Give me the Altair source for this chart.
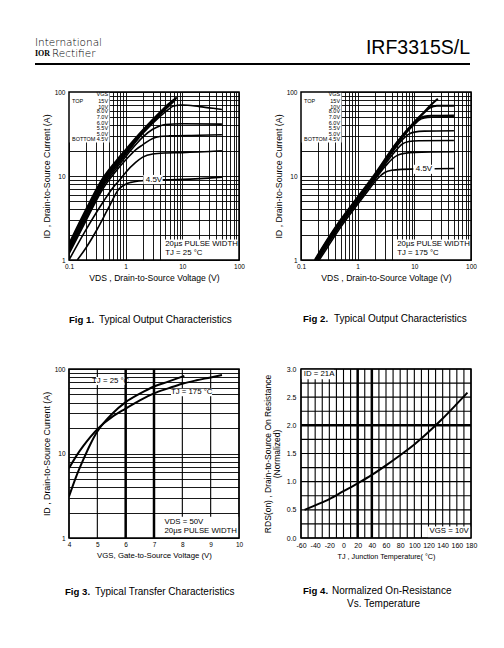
import altair as alt
import pandas as pd

FONT = "Liberation Sans"

# ---------------- Fig 1: typical output characteristics, TJ = 25 C  (VDS [V], ID [A]) ----------------
F1_15V = [(0.1, 1.55), (0.2, 4.0), (0.4, 9.5), (0.7, 15.5), (1, 20.5), (2, 35), (4, 57), (6, 74), (8, 86)]
F1_10V = [(0.1, 1.45), (0.2, 3.7), (0.4, 8.9), (0.7, 14.7), (1, 19.5), (2, 34), (4, 55.5), (6, 72), (7.8, 84)]
F1_8V = [(0.1, 1.38), (0.2, 3.5), (0.4, 8.4), (0.7, 14), (1, 18.7), (2, 33), (4, 54), (6, 70), (7.5, 81)]
F1_7V = [(0.1, 1.32), (0.2, 3.3), (0.4, 8.0), (0.7, 13.3), (1, 18), (2, 32), (4, 51), (5.5, 61), (7, 68),
         (10, 70), (20, 67), (35, 64), (50, 62)]
F1_6V = [(0.1, 1.25), (0.2, 3.1), (0.4, 7.6), (0.7, 12.6), (1, 17), (1.5, 23.5), (2, 29), (3, 36), (4, 39.5),
         (5, 41), (10, 41.8), (50, 41.5)]
F1_55V = [(0.1, 1.18), (0.2, 2.95), (0.4, 7.1), (0.7, 11.8), (1, 15.5), (1.5, 20.5), (2, 23.5), (3, 28),
          (4, 29.5), (6, 30), (20, 30.5), (50, 31)]
F1_5V = [(0.1, 1.0), (0.2, 2.3), (0.4, 4.9), (0.6, 7.3), (0.81, 9.2), (1, 11), (1.5, 14.5), (2, 16.8),
         (3, 18.3), (5, 18.8), (10, 19), (50, 20)]
F1_45V = [(0.14, 1.0), (0.2, 1.4), (0.316, 2.34), (0.5, 4.2), (0.76, 7.0), (1, 8.0), (1.23, 8.4), (2, 8.8),
          (5, 9.0), (20, 9.3), (50, 9.7)]

# ---------------- Fig 2: typical output characteristics, TJ = 175 C ----------------
F2_15V = [(0.175, 1), (0.3, 1.8), (0.5, 3.0), (1, 5.6), (2, 10.5), (5, 25.5), (10, 44), (15, 58), (20, 71), (26, 83)]
F2_10V = [(0.18, 1), (0.3, 1.75), (0.5, 2.9), (1, 5.4), (2, 10.1), (5, 25), (10, 43), (15, 57), (19, 65),
          (25, 68.5), (50, 68.5)]
F2_8V = [(0.185, 1), (0.3, 1.7), (0.5, 2.85), (1, 5.3), (2, 9.9), (5, 24.5), (10, 42), (12, 47.5), (15, 51),
         (20, 52), (50, 52.5)]
F2_7V = [(0.19, 1), (0.3, 1.65), (0.5, 2.8), (1, 5.2), (2, 9.7), (5, 24), (8, 35.5), (10, 41), (12, 46),
         (15, 49), (20, 50), (50, 50.5)]
F2_6V = [(0.19, 1), (0.3, 1.63), (0.5, 2.75), (1, 5.1), (2, 9.5), (5, 23), (7, 29.5), (8, 31.5), (10, 33.3),
         (15, 34.2), (50, 34.5)]
F2_55V = [(0.195, 1), (0.3, 1.6), (0.5, 2.7), (1, 5.0), (2, 9.3), (4, 17.5), (5, 21), (6, 23.8), (8, 25.7),
          (12, 26.3), (50, 26.5)]
F2_5V = [(0.2, 1), (0.3, 1.55), (0.5, 2.6), (1, 4.85), (2, 9.0), (3, 12.8), (4, 15.8), (5, 17.6), (7, 18.7),
         (10, 19.1), (50, 19.4)]
F2_45V = [(0.21, 1), (0.3, 1.45), (0.5, 2.45), (1, 4.6), (1.5, 6.6), (2, 8.5), (2.5, 10), (3, 11), (4, 11.7),
          (6, 12), (10, 12.1), (50, 12.3)]

VGS_NAMES = ["15V", "10V", "8.0V", "7.0V", "6.0V", "5.5V", "5.0V", "4.5V"]
F1_SERIES = [F1_15V, F1_10V, F1_8V, F1_7V, F1_6V, F1_55V, F1_5V, F1_45V]
F2_SERIES = [F2_15V, F2_10V, F2_8V, F2_7V, F2_6V, F2_55V, F2_5V, F2_45V]

# legend block inside figs 1 and 2
LEGEND_TEXT = ["VGS", "15V", "10V", "8.0V", "7.0V", "6.0V", "5.5V", "5.0V", "4.5V"]
LEGEND_ID = [94.7, 78.1, 67.2, 58.6, 50.3, 43.3, 37.3, 31.6, 27.2]

# ---------------- Fig 3: transfer characteristics (VGS [V], ID [A]) ----------------
F3_25C = [(4.0, 3.1), (4.25, 5.3), (4.5, 8.4), (4.75, 12.8), (5.0, 18.2), (5.25, 23.5), (5.5, 29),
          (6.0, 40.5), (6.5, 51), (7.0, 62), (7.5, 71), (8.07, 83)]
F3_175C = [(4.0, 6.7), (4.25, 9.25), (4.5, 12.2), (4.75, 15.6), (5.0, 19.4), (5.25, 23.1), (5.5, 26.8),
           (6.0, 34), (6.5, 42.5), (7.0, 51.5), (7.5, 59), (8.0, 67), (8.5, 73.5), (9.0, 79.5), (9.4, 85)]
F3_GRID_VGS = [4, 5, 6, 7, 8, 9, 10]
F3_HEAVY_VGS = [6, 7]

# ---------------- Fig 4: normalized RDS(on) vs TJ ----------------
F4_TJ = [-55, -40, -20, 0, 20, 40, 60, 80, 100, 120, 140, 160, 175]
F4_RDS = [0.5, 0.58, 0.69, 0.83, 0.97, 1.12, 1.29, 1.47, 1.66, 1.88, 2.12, 2.38, 2.58]
F4_GRID_TJ = list(range(-60, 181, 10))
F4_GRID_RDS = [i * 0.25 for i in range(13)]
F4_HEAVY_TJ = [20, 40]
F4_HEAVY_RDS = [2.0]

LOG_X_VALUES = [round(m * 10 ** e, 6) for e in (-1, 0, 1) for m in range(1, 10)] + [100]
LOG_Y_VALUES = [m * 10 ** e for e in (0, 1) for m in range(1, 10)] + [100]


# ---------------- helpers ----------------
def curve_frame(names, series, widths):
    rows = []
    for n, s, w in zip(names, series, widths):
        for k, (x, y) in enumerate(s):
            rows.append({"curve": n, "k": k, "x": x, "y": y, "w": w})
    return pd.DataFrame(rows)


def make_axis(title, values, expr, label_size=6.5, title_size=8.5, label_pad=3, title_pad=2,
              line_height=None, grid=True):
    kw = dict(title=title, values=values, labelExpr=expr, grid=grid, ticks=False, domain=False,
              labelFont=FONT, labelFontSize=label_size, labelColor="black", labelPadding=label_pad,
              labelFlush=False, labelOverlap=False, titleFont=FONT, titleFontSize=title_size,
              titleFontWeight="normal", titleColor="black", titlePadding=title_pad)
    if grid:
        kw.update(gridColor="black", gridWidth=0.9, gridOpacity=1)
    if line_height is not None:
        kw["titleLineHeight"] = line_height
    return alt.Axis(**kw)


def text_layer(df, X, Y, align, size, weight="normal"):
    return alt.Chart(df).mark_text(align=align, baseline="middle", color="black", font=FONT,
                                   fontSize=size, fontWeight=weight).encode(x=X, y=Y, text="t:N")


def pixel_text(t, x, y, size=10, weight="normal", align="left", font=FONT):
    return alt.Chart(pd.DataFrame({"t": [t]})).mark_text(
        align=align, baseline="middle", color="black", font=font, fontSize=size, fontWeight=weight
    ).encode(x=alt.value(x), y=alt.value(y), text="t:N")


def rules(values, enc, channel, width, tag):
    df = pd.DataFrame({channel: values, "tag": [tag] * len(values)})
    return alt.Chart(df).mark_rule(color="#000000", strokeWidth=width, opacity=1).encode(**{channel: enc})


def panel(X, Y, lines_df, boxes_df, border_df, texts, extras, width, height, pre=()):
    lines = alt.Chart(lines_df).mark_line(color="black", interpolate="monotone", clip=True).encode(
        x=X, y=Y, detail="curve:N", order="k:Q", strokeWidth=alt.StrokeWidth("w:Q", scale=None))
    boxes = alt.Chart(boxes_df).mark_rect(fill="white").encode(x=X, x2="x2:Q", y=Y, y2="y2:Q")
    border = alt.Chart(border_df).mark_rect(filled=False, stroke="black", strokeWidth=1.5).encode(
        x=X, x2="x2:Q", y=Y, y2="y2:Q")
    return alt.layer(*pre, lines, boxes, *texts, border, *extras).properties(width=width, height=height)


LOG_X_EXPR = "indexof([0.1, 1, 10, 100], datum.value) >= 0 ? format(datum.value, '~g') : ''"
LOG_Y_EXPR = "indexof([1, 10, 100], datum.value) >= 0 ? format(datum.value, '~g') : ''"

W1, H1 = 170, 168
W2, H2 = 170, 169


def output_panel(series, tj_text, lab45, fig_no, extras):
    xs = alt.Scale(type="log", domain=[0.1, 100], nice=False)
    ys = alt.Scale(type="log", domain=[1, 100], nice=False)
    X = alt.X("x:Q", scale=xs, axis=make_axis("VDS , Drain-to-Source Voltage (V)", LOG_X_VALUES,
                                               LOG_X_EXPR, title_size=8.6, title_pad=4))
    Y = alt.Y("y:Q", scale=ys, axis=make_axis("ID , Drain-to-Source Current (A)", LOG_Y_VALUES,
                                               LOG_Y_EXPR, title_size=8.8, label_pad=4, title_pad=3))
    widths = [2.0, 2.0, 2.0, 1.6, 1.6, 1.6, 1.6, 1.6]
    lines_df = curve_frame(VGS_NAMES, series, widths)
    boxes_df = pd.DataFrame({
        "x": [0.1, 4.3 if fig_no == 1 else 4.6, lab45[2]],
        "x2": [0.52, 100, lab45[3]],
        "y": [25, 1, lab45[4]],
        "y2": [100, 1.75, lab45[5]],
    })
    border_df = pd.DataFrame({"x": [0.1], "x2": [100], "y": [1], "y2": [100]})
    legend_right = pd.DataFrame({"x": [0.49] * 9, "y": LEGEND_ID, "t": LEGEND_TEXT})
    legend_left = pd.DataFrame({"x": [0.113, 0.113], "y": [LEGEND_ID[1], LEGEND_ID[8]], "t": ["TOP", "BOTTOM"]})
    pulse = pd.DataFrame({"x": [5.0, 5.0], "y": [1.53, 1.21], "t": ["20\u00b5s PULSE WIDTH", tj_text]})
    label = pd.DataFrame({"x": [lab45[0]], "y": [lab45[1]], "t": ["4.5V"]})
    texts = [
        text_layer(legend_right, X, Y, "right", 5.5),
        text_layer(legend_left, X, Y, "left", 5.5),
        text_layer(pulse, X, Y, "left", 7.8),
        text_layer(label, X, Y, "center", 8),
    ]
    return panel(X, Y, lines_df, boxes_df, border_df, texts, extras, W1, H1)


# ---------------- header (drawn in fig 1's frame, above its plot) ----------------
header = [
    alt.Chart(pd.DataFrame({"t": ["rule"]})).mark_rule(color="black", strokeWidth=2).encode(
        x=alt.value(-34), x2=alt.value(401), y=alt.value(-28)),
    pixel_text("International", -34, -49, size=10.5, weight=200, font="DejaVu Sans"),
    pixel_text("IOR", -34, -38, size=8, weight="bold", font="Liberation Serif"),
    pixel_text("Rectifier", -17, -38, size=10.5, weight=200, font="DejaVu Sans"),
    pixel_text("IRF3315S/L", 401, -44, size=19.5, align="right"),
]

fig1 = output_panel(
    F1_SERIES, "TJ = 25 \u00b0C", (3.16, 9.0, 2.05, 4.5, 8.0, 10.3), 1,
    header + [pixel_text("Fig 1.", 0, 228, size=9.6, weight="bold"),
              pixel_text("Typical Output Characteristics", 30, 228)])

fig2 = output_panel(
    F2_SERIES, "TJ = 175 \u00b0C", (14.8, 12.0, 9.6, 22.8, 10.6, 13.6), 2,
    [pixel_text("Fig 2.", 2, 227, size=9.6, weight="bold"),
     pixel_text("Typical Output Characteristics", 33, 227)])

# ---------------- Fig 3 ----------------
xs3 = alt.Scale(domain=[4, 10], nice=False)
ys3 = alt.Scale(type="log", domain=[1, 100], nice=False)
X3 = alt.X("x:Q", scale=xs3, axis=make_axis(
    "VGS, Gate-to-Source Voltage (V)", F3_GRID_VGS, "'' + datum.value", title_size=7.8, title_pad=4,
    grid=False))
Y3 = alt.Y("y:Q", scale=ys3, axis=make_axis("ID , Drain-to-Source Current (A)", LOG_Y_VALUES, LOG_Y_EXPR,
                                             title_size=8.8, label_pad=4, title_pad=3))
f3_lines = curve_frame(["25C", "175C"], [F3_25C, F3_175C], [2, 2])
f3_boxes = pd.DataFrame({"x": [4.95, 7.6, 7.3], "x2": [5.96, 9.05, 10],
                         "y": [64.6, 47.5, 1], "y2": [80.4, 58.4, 1.78]})
f3_border = pd.DataFrame({"x": [4], "x2": [10], "y": [1], "y2": [100]})
f3_center = pd.DataFrame({"x": [5.47, 8.33], "y": [72.5, 53], "t": ["TJ = 25 \u00b0C", "TJ = 175 \u00b0C"]})
f3_left = pd.DataFrame({"x": [7.37, 7.37], "y": [1.55, 1.21], "t": ["VDS = 50V", "20\u00b5s PULSE WIDTH"]})
fig3 = panel(X3, Y3, f3_lines, f3_boxes, f3_border,
             [text_layer(f3_center, X3, Y3, "center", 7.8), text_layer(f3_left, X3, Y3, "left", 7.8)],
             [pixel_text("Fig 3.", -4, 223, size=9.6, weight="bold"),
              pixel_text("Typical Transfer Characteristics", 26, 223)],
             W2, H2,
             pre=[rules(F3_GRID_VGS, X3, "x", 1.1, "thin"), rules(F3_HEAVY_VGS, X3, "x", 2.5, "heavy")])

# ---------------- Fig 4 ----------------
xs4 = alt.Scale(domain=[-60, 180], nice=False)
ys4 = alt.Scale(domain=[0, 3.0], nice=False)
X4 = alt.X("x:Q", scale=xs4, axis=make_axis(
    "TJ , Junction Temperature( \u00b0C)", F4_GRID_TJ,
    "datum.value % 20 == 0 ? '' + datum.value : ''", label_size=7, title_size=7.2, title_pad=4,
    grid=False))
Y4 = alt.Y("y:Q", scale=ys4, axis=make_axis(
    ["RDS(on) , Drain-to-Source On Resistance", "(Normalized)"], F4_GRID_RDS,
    "datum.value % 0.5 == 0 ? format(datum.value, '.1f') : ''", label_size=7, title_size=8.5,
    label_pad=5, title_pad=5, line_height=9, grid=False))
f4_lines = pd.DataFrame({"curve": "rds", "k": range(len(F4_TJ)), "x": F4_TJ, "y": F4_RDS, "w": 2})
f4_boxes = pd.DataFrame({"x": [-60, 119], "x2": [-13.5, 180], "y": [2.82, 0], "y2": [3.0, 0.206]})
f4_border = pd.DataFrame({"x": [-60], "x2": [180], "y": [0], "y2": [3.0]})
f4_left = pd.DataFrame({"x": [-56, 121.5], "y": [2.92, 0.13], "t": ["ID = 21A", "VGS = 10V"]})
fig4 = panel(X4, Y4, f4_lines, f4_boxes, f4_border, [text_layer(f4_left, X4, Y4, "left", 7.8)],
             [pixel_text("Fig 4.", 2, 222, size=9.6, weight="bold"),
              pixel_text("Normalized On-Resistance", 31, 222),
              pixel_text("Vs. Temperature", 46, 235)],
             W2, H2,
             pre=[rules(F4_GRID_TJ, X4, "x", 1.1, "thin"), rules(F4_GRID_RDS, Y4, "y", 1.1, "thin"),
                  rules(F4_HEAVY_TJ, X4, "x", 2.5, "heavy"), rules(F4_HEAVY_RDS, Y4, "y", 2.5, "heavy")])

chart = alt.concat(
    fig1, fig2, fig3, fig4, columns=2, spacing={"row": 109, "column": 62}, bounds="flush"
).properties(
    padding={"left": 25, "top": 29, "right": 0, "bottom": 0}
).configure(font=FONT).configure_view(stroke="transparent")

chart.save("out.html", embed_options={"renderer": "svg", "actions": False})
